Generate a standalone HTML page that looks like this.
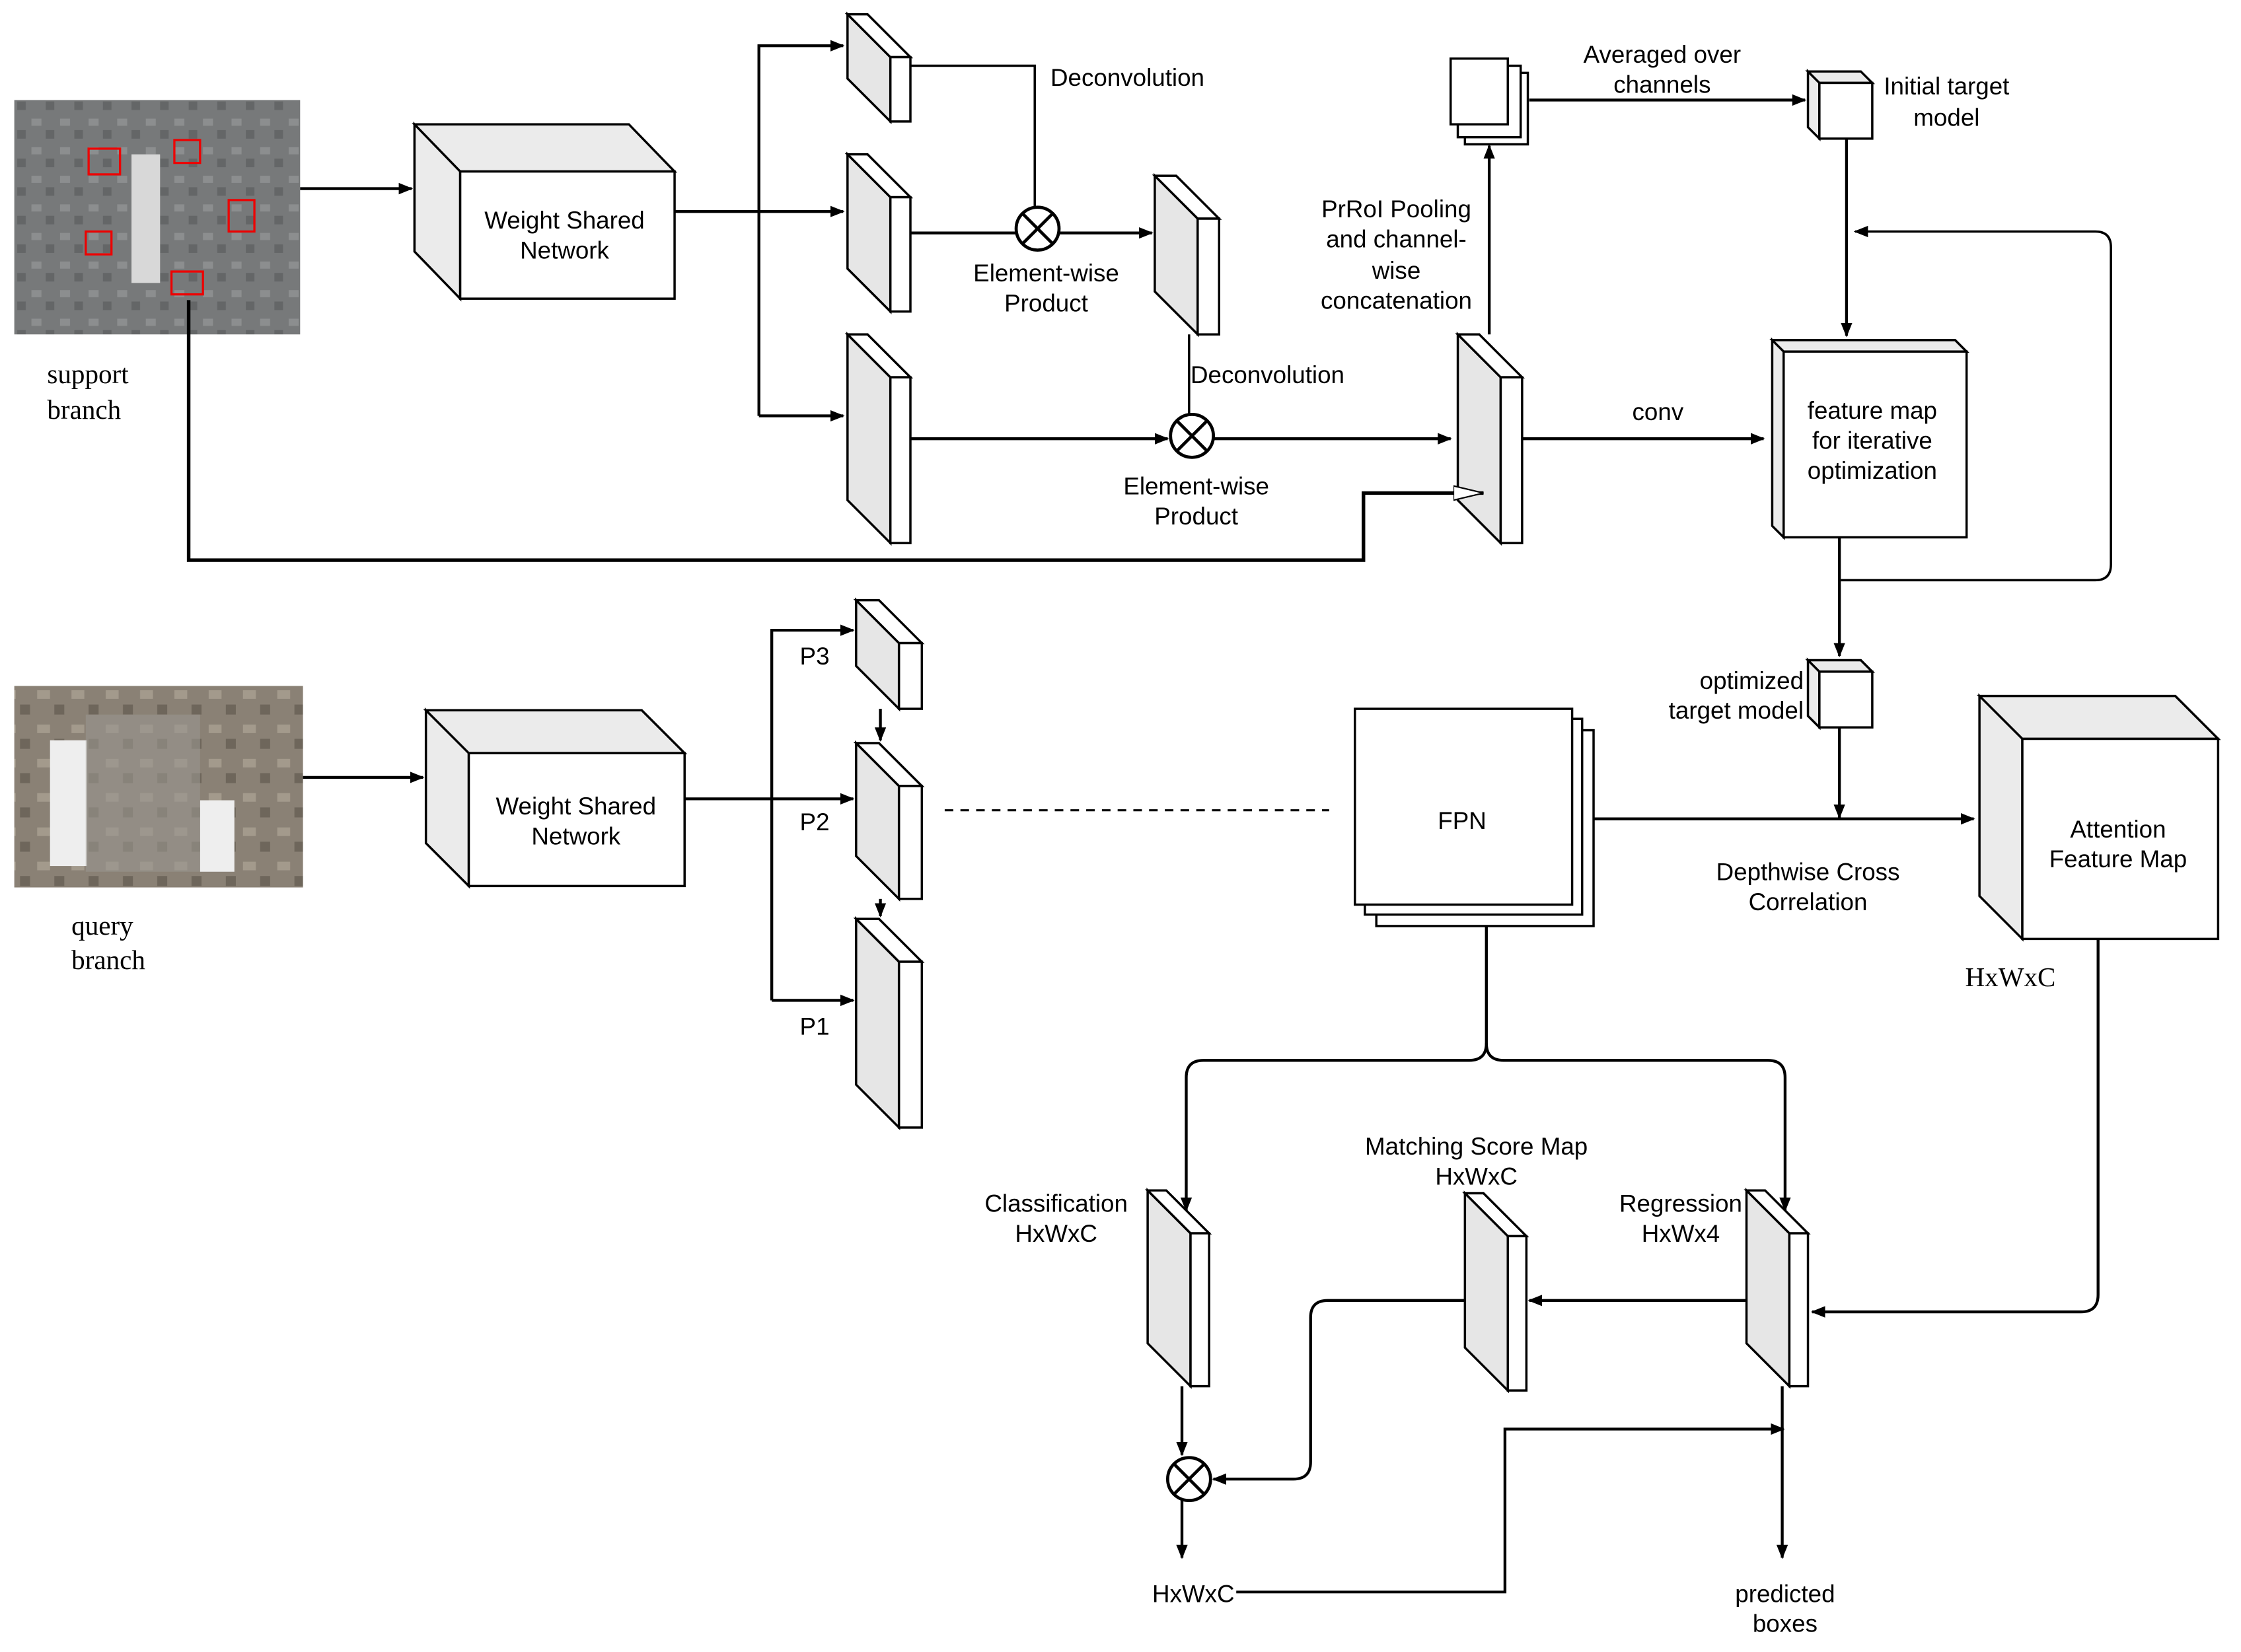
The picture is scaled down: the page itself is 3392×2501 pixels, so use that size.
<!DOCTYPE html>
<html><head><meta charset="utf-8"><style>html,body{margin:0;padding:0;background:#fff}svg{display:block}</style></head>
<body>
<svg width="3392" height="2501" viewBox="0 0 1568 1156" preserveAspectRatio="none" xmlns="http://www.w3.org/2000/svg" font-family="Liberation Sans, sans-serif" font-size="17">
<defs>
<marker id="a" markerWidth="10" markerHeight="10" refX="9" refY="5" orient="auto" markerUnits="userSpaceOnUse"><path d="M0,1 L10,5 L0,9 Z" fill="#000"/></marker>
<marker id="h" markerWidth="22" markerHeight="12" refX="21" refY="6" orient="auto" markerUnits="userSpaceOnUse"><path d="M0,1 L21,6 L0,11 Z" fill="#fff" stroke="#000" stroke-width="1"/></marker>
<pattern id="sp" width="20" height="20" patternUnits="userSpaceOnUse"><rect width="20" height="20" fill="#77797a"/><rect x="2" y="3" width="7" height="5" fill="#8c8e8f"/><rect x="12" y="11" width="6" height="6" fill="#646667"/></pattern>
<pattern id="qp" width="24" height="24" patternUnits="userSpaceOnUse"><rect width="24" height="24" fill="#8a8175"/><rect x="2" y="3" width="9" height="6" fill="#a39a8c"/><rect x="14" y="13" width="7" height="7" fill="#6e665b"/></pattern>
</defs>
<g fill="none" stroke="#000" stroke-width="2">
<rect x="10" y="70" width="200" height="164" fill="url(#sp)" stroke="none"/>
<rect x="92" y="108" width="20" height="90" fill="#d8d8d8" stroke="none"/>
<g stroke="#e00" stroke-width="1.5"><rect x="62" y="104" width="22" height="18"/><rect x="122" y="98" width="18" height="16"/><rect x="160" y="140" width="18" height="22"/><rect x="60" y="162" width="18" height="16"/><rect x="120" y="190" width="22" height="16"/></g>
<rect x="10" y="480" width="202" height="141" fill="url(#qp)" stroke="none"/>
<rect x="35" y="518" width="26" height="88" fill="#eee" stroke="none"/><rect x="140" y="560" width="24" height="50" fill="#eee" stroke="none"/>
<rect x="60" y="500" width="80" height="110" fill="#9a968f" stroke="none" opacity="0.6"/>

<g fill="#fff" stroke-width="1.6">
<path d="M290,87 L440,87 L472,120 L322,120 Z M290,87 L322,120 L322,209 L290,176 Z" fill="#ebebeb"/><rect x="322" y="120" width="150" height="89"/>
<path d="M298,497 L449,497 L479,527 L328,527 Z M298,497 L328,527 L328,620 L298,590 Z" fill="#ebebeb"/><rect x="328" y="527" width="151" height="93"/>
<path d="M1385,487 L1522,487 L1552,517 L1415,517 Z M1385,487 L1415,517 L1415,657 L1385,627 Z" fill="#ebebeb"/><rect x="1415" y="517" width="137" height="140"/>
<path d="M1240,238 L1368,238 L1376,246 L1248,246 Z M1240,238 L1248,246 L1248,376 L1240,368 Z" fill="#ebebeb"/><rect x="1248" y="246" width="128" height="130"/>
<path d="M1265,50 L1302,50 L1310,58 L1273,58 Z M1265,50 L1273,58 L1273,97 L1265,89 Z" fill="#ebebeb"/><rect x="1273" y="58" width="37" height="39"/>
<path d="M1265,462 L1302,462 L1310,470 L1273,470 Z M1265,462 L1273,470 L1273,509 L1265,501 Z" fill="#ebebeb"/><rect x="1273" y="470" width="37" height="39"/>
<rect x="1025" y="51" width="44" height="50"/><rect x="1020" y="46" width="44" height="50"/><rect x="1015" y="41" width="40" height="46"/>
<rect x="963" y="511" width="152" height="137"/><rect x="955" y="503" width="152" height="137"/><rect x="948" y="496" width="152" height="137"/>
</g>
<g fill="#e6e6e6" stroke-width="1.6">
<path d="M593,10 L623,40 L623,85 L593,55 Z"/><path d="M593,10 L607,10 L637,40 L623,40 Z" fill="#fff"/><rect x="623" y="40" width="14" height="45" fill="#fff"/>
<path d="M593,108 L623,138 L623,218 L593,188 Z"/><path d="M593,108 L607,108 L637,138 L623,138 Z" fill="#fff"/><rect x="623" y="138" width="14" height="80" fill="#fff"/>
<path d="M593,234 L623,264 L623,380 L593,350 Z"/><path d="M593,234 L607,234 L637,264 L623,264 Z" fill="#fff"/><rect x="623" y="264" width="14" height="116" fill="#fff"/>
<path d="M808,123 L838,153 L838,234 L808,204 Z"/><path d="M808,123 L823,123 L853,153 L838,153 Z" fill="#fff"/><rect x="838" y="153" width="15" height="81" fill="#fff"/>
<path d="M1020,234 L1050,264 L1050,380 L1020,350 Z"/><path d="M1020,234 L1035,234 L1065,264 L1050,264 Z" fill="#fff"/><rect x="1050" y="264" width="15" height="116" fill="#fff"/>
<path d="M599,420 L629,450 L629,496 L599,466 Z"/><path d="M599,420 L615,420 L645,450 L629,450 Z" fill="#fff"/><rect x="629" y="450" width="16" height="46" fill="#fff"/>
<path d="M599,520 L629,550 L629,629 L599,599 Z"/><path d="M599,520 L615,520 L645,550 L629,550 Z" fill="#fff"/><rect x="629" y="550" width="16" height="79" fill="#fff"/>
<path d="M599,643 L629,673 L629,789 L599,759 Z"/><path d="M599,643 L615,643 L645,673 L629,673 Z" fill="#fff"/><rect x="629" y="673" width="16" height="116" fill="#fff"/>
<path d="M803,833 L833,863 L833,970 L803,940 Z"/><path d="M803,833 L816,833 L846,863 L833,863 Z" fill="#fff"/><rect x="833" y="863" width="13" height="107" fill="#fff"/>
<path d="M1025,835 L1055,865 L1055,973 L1025,943 Z"/><path d="M1025,835 L1038,835 L1068,865 L1055,865 Z" fill="#fff"/><rect x="1055" y="865" width="13" height="108" fill="#fff"/>
<path d="M1222,833 L1252,863 L1252,970 L1222,940 Z"/><path d="M1222,833 L1235,833 L1265,863 L1252,863 Z" fill="#fff"/><rect x="1252" y="863" width="13" height="107" fill="#fff"/>
</g>
<g fill="#fff" stroke-width="2.2">
<circle cx="726" cy="160" r="15"/><path d="M715,149 L737,171 M737,149 L715,171"/>
<circle cx="834" cy="305" r="15"/><path d="M823,294 L845,316 M845,294 L823,316"/>
<circle cx="832" cy="1035" r="15"/><path d="M821,1024 L843,1046 M843,1024 L821,1046"/>
</g>
<path d="M210,132 L288,132" marker-end="url(#a)"/>
<path d="M472,148 L590,148" marker-end="url(#a)"/>
<path d="M531,291 L531,32 L590,32" marker-end="url(#a)"/>
<path d="M531,291 L590,291" marker-end="url(#a)"/>
<path d="M637,46 L724,46 L724,145" stroke-width="1.6"/>
<path d="M637,163 L711,163"/><path d="M741,163 L806,163" marker-end="url(#a)"/>
<path d="M832,234 L832,290" stroke-width="1.6"/>
<path d="M637,307 L817,307" marker-end="url(#a)"/><path d="M849,307 L1015,307" marker-end="url(#a)"/>
<path d="M132,210 L132,392 L954,392 L954,345 L1038,345" stroke-width="2.5" marker-end="url(#h)"/>
<path d="M1042,234 L1042,102" marker-end="url(#a)"/>
<path d="M1070,70 L1263,70" marker-end="url(#a)"/>
<path d="M1292,97 L1292,235" marker-end="url(#a)"/>
<path d="M1065,307 L1234,307" marker-end="url(#a)"/>
<path d="M1288,406 L1466,406 Q1477,406 1477,395 L1477,173 Q1477,162 1466,162 L1298,162" marker-end="url(#a)" stroke-width="1.6"/>
<path d="M1287,376 L1287,459" marker-end="url(#a)"/>
<path d="M1287,509 L1287,572" marker-end="url(#a)"/>
<path d="M1115,573 L1381,573" marker-end="url(#a)"/>
<path d="M1468,657 L1468,906 Q1468,918 1456,918 L1268,918" marker-end="url(#a)"/>
<path d="M212,544 L296,544" marker-end="url(#a)"/>
<path d="M479,559 L597,559" marker-end="url(#a)"/>
<path d="M540,700 L540,441 L597,441" marker-end="url(#a)"/>
<path d="M540,700 L597,700" marker-end="url(#a)"/>
<path d="M616,496 L616,518" marker-end="url(#a)"/><path d="M616,629 L616,641" marker-end="url(#a)"/>
<path d="M661,567 L930,567" stroke-width="1.4" stroke-dasharray="6,5"/>
<path d="M1040,648 L1040,730 Q1040,742 1028,742 L842,742 Q830,742 830,754 L830,847" marker-end="url(#a)"/>
<path d="M1040,730 Q1040,742 1052,742 L1237,742 Q1249,742 1249,754 L1249,847" marker-end="url(#a)"/>
<path d="M1222,910 L1070,910" marker-end="url(#a)"/>
<path d="M1025,910 L929,910 Q917,910 917,922 L917,1023 Q917,1035 905,1035 L849,1035" marker-end="url(#a)"/>
<path d="M827,970 L827,1018" marker-end="url(#a)"/>
<path d="M827,1050 L827,1090" marker-end="url(#a)"/>
<path d="M865,1114 L1053,1114 L1053,1000 L1248,1000" marker-end="url(#a)"/>
<path d="M1247,970 L1247,1090" marker-end="url(#a)"/>
</g>
<g fill="#000" text-anchor="middle">
<text x="395" y="160">Weight Shared</text><text x="395" y="181">Network</text>
<text x="403" y="570">Weight Shared</text><text x="403" y="591">Network</text>
<text x="735" y="60" text-anchor="start">Deconvolution</text>
<text x="833" y="268" text-anchor="start">Deconvolution</text>
<text x="732" y="197">Element-wise</text><text x="732" y="218">Product</text>
<text x="837" y="346">Element-wise</text><text x="837" y="367">Product</text>
<text x="977" y="152">PrRoI Pooling</text><text x="977" y="173">and channel-</text><text x="977" y="195">wise</text><text x="977" y="216">concatenation</text>
<text x="1163" y="44">Averaged over</text><text x="1163" y="65">channels</text>
<text x="1362" y="66">Initial target</text><text x="1362" y="88">model</text>
<text x="1160" y="294">conv</text>
<text x="1310" y="293">feature map</text><text x="1310" y="314">for iterative</text><text x="1310" y="335">optimization</text>
<text x="1262" y="482" text-anchor="end">optimized</text><text x="1262" y="503" text-anchor="end">target model</text>
<text x="1023" y="580">FPN</text>
<text x="1265" y="616">Depthwise Cross</text><text x="1265" y="637">Correlation</text>
<text x="1482" y="586">Attention</text><text x="1482" y="607">Feature Map</text>
<text x="570" y="465">P3</text><text x="570" y="581">P2</text><text x="570" y="724">P1</text>
<text x="739" y="848">Classification</text><text x="739" y="869">HxWxC</text>
<text x="1033" y="808">Matching Score Map</text><text x="1033" y="829">HxWxC</text>
<text x="1176" y="848">Regression</text><text x="1176" y="869">HxWx4</text>
<text x="835" y="1121">HxWxC</text>
<text x="1249" y="1121">predicted</text><text x="1249" y="1142">boxes</text>
</g>
<g fill="#000" font-family="Liberation Serif, serif" font-size="19">
<text x="33" y="268">support</text><text x="33" y="293">branch</text>
<text x="50" y="654">query</text><text x="50" y="678">branch</text>
<text x="1375" y="690">HxWxC</text>
</g>
</svg>
</body></html>
